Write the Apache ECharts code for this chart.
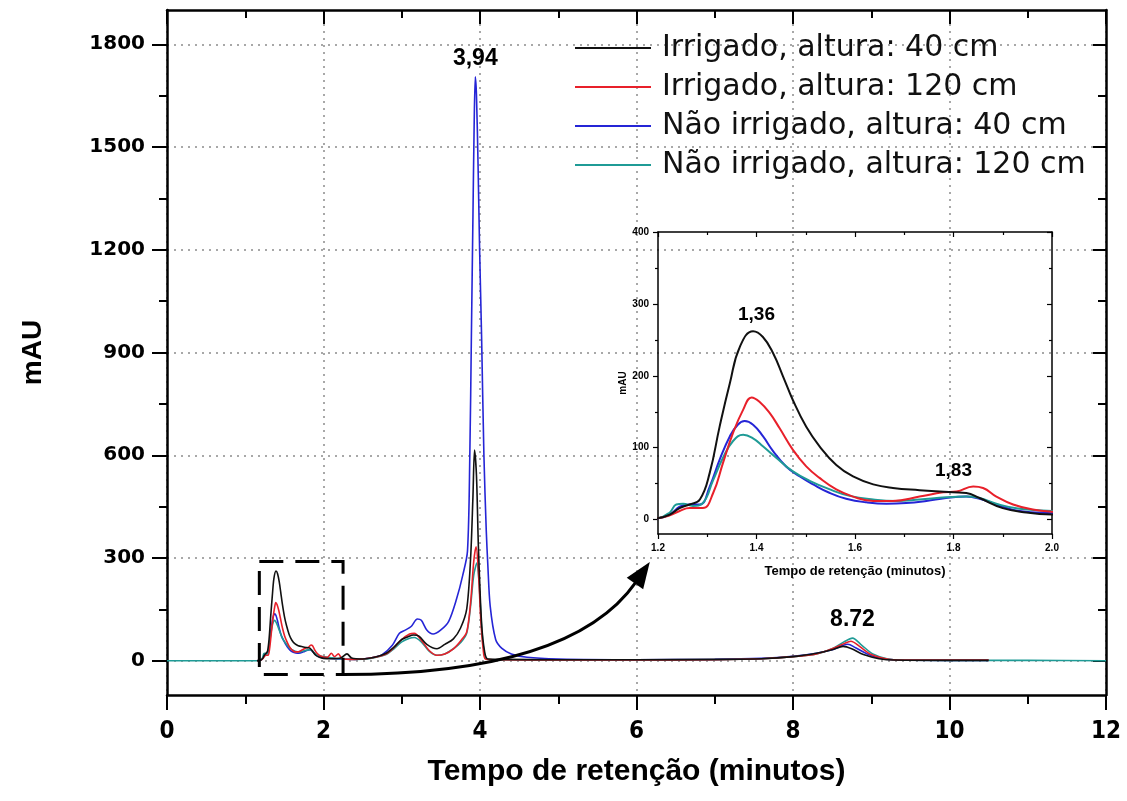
<!DOCTYPE html>
<html>
<head>
<meta charset="utf-8">
<script src="https://cdn.jsdelivr.net/npm/echarts@6/dist/echarts.min.js"></script>
<style>
  html, body { margin: 0; padding: 0; background: #ffffff; }
  #chart { width: 1127px; height: 801px; }
</style>
</head>
<body>
<div id="chart"></div>
<script>
// Chromatogram: four samples, retention time (min) vs absorbance (mAU)
const seriesNames = [
  'Irrigado, altura: 40 cm',
  'Irrigado, altura: 120 cm',
  'Não irrigado, altura: 40 cm',
  'Não irrigado, altura: 120 cm'
];
const seriesColors = ['#111111', '#e8202a', '#2525d6', '#1f9b96'];

// [tempo (min), mAU]
const irrigado40 = [
  [1.15, 0], [1.18, 1], [1.2, 2], [1.224, 7], [1.244, 16], [1.264, 21], [1.285, 28],
  [1.305, 65], [1.325, 129], [1.346, 190], [1.366, 240], [1.393, 262], [1.413, 254],
  [1.434, 231], [1.454, 199], [1.474, 166], [1.501, 129], [1.528, 102], [1.562, 76],
  [1.596, 60], [1.637, 49], [1.677, 44], [1.731, 41], [1.799, 38], [1.826, 37],
  [1.853, 30], [1.9, 16], [1.948, 10], [2.0, 7], [2.1, 6], [2.22, 8], [2.3, 20],
  [2.36, 8], [2.5, 5], [2.65, 10], [2.8, 22], [2.9, 40], [3.0, 62], [3.08, 70],
  [3.15, 75], [3.22, 72], [3.32, 48], [3.45, 35], [3.55, 48], [3.66, 64], [3.75, 95],
  [3.83, 151], [3.88, 300], [3.91, 480], [3.93, 615], [3.955, 540], [3.98, 330],
  [4.02, 110], [4.06, 25], [4.1, 5], [4.3, 4], [5.0, 3], [6.0, 3], [7.0, 4], [7.6, 6],
  [8.0, 12], [8.3, 22], [8.5, 32], [8.64, 42], [8.75, 35], [8.9, 18], [9.1, 6],
  [9.3, 2], [10.0, 1], [10.5, 1]
];
const irrigado120 = [
  [1.15, 0], [1.2, 2], [1.224, 6], [1.244, 12], [1.264, 16], [1.291, 16], [1.312, 37],
  [1.332, 79], [1.352, 120], [1.373, 153], [1.39, 170], [1.406, 164], [1.427, 148],
  [1.447, 127], [1.474, 97], [1.501, 74], [1.528, 58], [1.562, 42], [1.596, 32],
  [1.637, 26], [1.677, 26], [1.731, 32], [1.779, 38], [1.806, 39], [1.84, 46],
  [1.86, 44], [1.887, 32], [1.921, 21], [1.961, 14], [2.0, 11], [2.05, 10], [2.1, 22],
  [2.14, 12], [2.19, 20], [2.24, 6], [2.4, 4], [2.6, 8], [2.8, 20], [2.9, 38],
  [3.0, 62], [3.1, 78], [3.16, 80], [3.25, 60], [3.35, 30], [3.45, 16], [3.55, 20],
  [3.66, 35], [3.76, 60], [3.83, 84], [3.88, 170], [3.92, 290], [3.95, 333],
  [3.98, 260], [4.01, 120], [4.04, 35], [4.07, 5], [4.2, 3], [5.0, 2], [6.0, 2],
  [7.0, 3], [7.6, 6], [8.0, 12], [8.3, 20], [8.5, 35], [8.65, 50], [8.74, 57],
  [8.85, 42], [9.0, 18], [9.2, 5], [9.4, 2], [10.0, 2], [10.5, 2]
];
const naoIrrigado40 = [
  [1.15, 0], [1.2, 2], [1.224, 7], [1.244, 18], [1.264, 21], [1.285, 21], [1.305, 46],
  [1.325, 83], [1.346, 116], [1.362, 132], [1.376, 137], [1.393, 132], [1.413, 116],
  [1.434, 95], [1.46, 74], [1.488, 60], [1.515, 49], [1.549, 37], [1.582, 29],
  [1.623, 24], [1.664, 22], [1.704, 23], [1.745, 26], [1.785, 30], [1.826, 32],
  [1.853, 29], [1.887, 21], [1.934, 12], [2.0, 9], [2.2, 5], [2.4, 4], [2.6, 8],
  [2.75, 18], [2.88, 45], [2.97, 80], [3.05, 90], [3.12, 100], [3.2, 122], [3.25, 118],
  [3.32, 90], [3.4, 78], [3.5, 90], [3.6, 115], [3.7, 180], [3.78, 250], [3.84, 320],
  [3.87, 600], [3.89, 950], [3.91, 1300], [3.925, 1560], [3.94, 1705], [3.955, 1650],
  [3.975, 1450], [3.995, 1200], [4.02, 950], [4.05, 600], [4.08, 380], [4.1, 280],
  [4.13, 160], [4.2, 62], [4.28, 36], [4.4, 20], [4.6, 10], [5.0, 5], [6.0, 3],
  [7.0, 4], [7.6, 7], [8.0, 13], [8.3, 22], [8.5, 32], [8.7, 48], [8.8, 38],
  [8.95, 20], [9.15, 6], [9.4, 2], [10.0, 1], [10.5, 1]
];
const naoIrrigado120 = [
  [0, 0], [1.15, 0], [1.2, 2], [1.224, 10], [1.237, 21], [1.251, 22], [1.271, 19],
  [1.291, 23], [1.312, 55], [1.332, 86], [1.352, 109], [1.373, 118], [1.393, 113],
  [1.413, 102], [1.44, 86], [1.474, 67], [1.508, 54], [1.549, 42], [1.589, 33],
  [1.637, 28], [1.684, 26], [1.731, 28], [1.785, 31], [1.826, 32], [1.853, 30],
  [1.887, 22], [1.934, 15], [2.0, 12], [2.2, 6], [2.4, 4], [2.6, 7], [2.8, 18],
  [2.9, 35], [3.0, 55], [3.1, 66], [3.16, 68], [3.25, 55], [3.35, 28], [3.45, 16],
  [3.55, 20], [3.66, 35], [3.76, 55], [3.83, 80], [3.88, 160], [3.92, 250], [3.96, 285],
  [3.99, 220], [4.02, 100], [4.05, 30], [4.08, 5], [4.2, 3], [5.0, 2], [6.0, 2],
  [7.0, 3], [7.6, 6], [8.0, 12], [8.3, 20], [8.5, 35], [8.65, 55], [8.76, 66],
  [8.88, 45], [9.02, 20], [9.2, 6], [9.4, 2], [10.0, 1], [11.0, 1], [12.0, 0]
];
const seriesData = [irrigado40, irrigado120, naoIrrigado40, naoIrrigado120];

// axis ticks
const mainYMajor = [0, 300, 600, 900, 1200, 1500, 1800];
const mainYMinor = [150, 450, 750, 1050, 1350, 1650];
const insetYMajor = [0, 100, 200, 300, 400];
const insetYMinor = [50, 150, 250, 350];

// peak annotations: [series index, tempo, mAU, text]
const mainPeakLabels = [[2, 3.94, 1705, '3,94'], [3, 8.76, 66, '8.72']];
const insetPeakLabels = [[0, 1.40, 262, '1,36'], [1, 1.80, 46, '1,83']];

// zoomed region marked on the main plot and the arrow pointing to the inset
const zoomBox = { x0: 1.18, x1: 2.25, y0: -40, y1: 290 };
const arrowCtrl = [4.0, -40];
const arrowCtrl2 = [5.4, 35];
const arrowTip = [6.17, 288];

const BLACK = '#000000';
const tickFont = "'Liberation Sans Narrow', 'DejaVu Sans Condensed', 'Liberation Sans', sans-serif";
const plainNumber = v => String(v);

function xAxisCfg(grid, min, max, interval, pos, opts) {
  return Object.assign({
    type: 'value', gridIndex: grid, min: min, max: max, interval: interval, position: pos,
    axisLine: { show: true, onZero: false, lineStyle: { color: BLACK, width: opts.lw } },
    axisTick: { show: true, inside: opts.inside, length: opts.tl, lineStyle: { color: BLACK, width: opts.tw } },
    minorTick: { show: true, splitNumber: 2, length: opts.ml, lineStyle: { color: BLACK, width: opts.tw } },
    axisLabel: { show: false },
    splitLine: { show: false }
  }, opts.extra || {});
}
function yAxisCfg(grid, min, max, pos, ticks, opts) {
  return Object.assign({
    type: 'value', gridIndex: grid, min: min, max: max, position: pos,
    axisLine: { show: opts.line, onZero: false, lineStyle: { color: BLACK, width: opts.lw } },
    axisTick: { show: true, inside: opts.inside, length: opts.tl, customValues: ticks, lineStyle: { color: BLACK, width: opts.tw } },
    axisLabel: { show: false },
    splitLine: { show: false }
  }, opts.extra || {});
}

const chart = echarts.init(document.getElementById('chart'), null, { renderer: 'canvas' });

const xAxes = [
  // main bottom
  xAxisCfg(0, 0, 12, 2, 'bottom', {
    lw: 2.5, inside: false, tl: 15, ml: 9, tw: 2,
    extra: {
      axisLabel: { show: true, margin: 25, color: BLACK, fontFamily: tickFont, fontWeight: 'bold', fontSize: 24, showMinLabel: true, showMaxLabel: true, formatter: plainNumber },
      splitLine: { show: true, lineStyle: { color: '#8c8c8c', width: 1.5, type: [2, 5] } },
      name: 'Tempo de retenção (minutos)', nameLocation: 'middle', nameGap: 62,
      nameTextStyle: { color: BLACK, fontFamily: 'Liberation Sans, Arial, sans-serif', fontWeight: 'bold', fontSize: 30 }
    }
  }),
  // main top
  xAxisCfg(0, 0, 12, 2, 'top', { lw: 2.5, inside: true, tl: 14, ml: 8, tw: 2 }),
  // inset bottom
  xAxisCfg(1, 1.2, 2.0, 0.2, 'bottom', {
    lw: 1.5, inside: false, tl: 5, ml: 3, tw: 1.2,
    extra: {
      axisLabel: { show: true, margin: 9, color: BLACK, fontFamily: 'Liberation Sans, Arial, sans-serif', fontWeight: 'bold', fontSize: 10, showMinLabel: true, showMaxLabel: true, formatter: v => v.toFixed(1) },
      name: 'Tempo de retenção (minutos)', nameLocation: 'middle', nameGap: 31,
      nameTextStyle: { color: BLACK, fontFamily: 'Liberation Sans, Arial, sans-serif', fontWeight: 'bold', fontSize: 13 }
    }
  }),
  // inset top
  xAxisCfg(1, 1.2, 2.0, 0.2, 'top', { lw: 1.5, inside: true, tl: 5, ml: 3, tw: 1.2 })
];

const yAxes = [
  // main left (labels, grid)
  yAxisCfg(0, -100, 1900, 'left', mainYMajor, {
    line: true, lw: 2.5, inside: false, tl: 15, tw: 2,
    extra: {
      axisLabel: { show: true, customValues: mainYMajor, margin: 22, color: BLACK, fontFamily: "'DejaVu Sans', sans-serif", fontWeight: 'bold', fontSize: 20, formatter: plainNumber },
      splitLine: { show: true, lineStyle: { color: '#8c8c8c', width: 1.5, type: [2, 5] } },
      name: 'mAU', nameLocation: 'middle', nameGap: 120, nameRotate: 90,
      nameTextStyle: { color: BLACK, fontFamily: 'Liberation Sans, Arial, sans-serif', fontWeight: 'bold', fontSize: 28 }
    }
  }),
  // main left minor ticks
  yAxisCfg(0, -100, 1900, 'left', mainYMinor, { line: false, lw: 0, inside: false, tl: 8, tw: 2 }),
  // main right
  yAxisCfg(0, -100, 1900, 'right', mainYMajor, { line: true, lw: 2.5, inside: true, tl: 13, tw: 2 }),
  yAxisCfg(0, -100, 1900, 'right', mainYMinor, { line: false, lw: 0, inside: true, tl: 8, tw: 2 }),
  // inset left
  yAxisCfg(1, -20, 400, 'left', insetYMajor, {
    line: true, lw: 1.5, inside: false, tl: 5, tw: 1.2,
    extra: {
      axisLabel: { show: true, customValues: insetYMajor, margin: 9, color: BLACK, fontFamily: 'Liberation Sans, Arial, sans-serif', fontWeight: 'bold', fontSize: 10, formatter: plainNumber },
      name: 'mAU', nameLocation: 'middle', nameGap: 22, nameRotate: 90,
      nameTextStyle: { color: BLACK, fontFamily: 'Liberation Sans, Arial, sans-serif', fontWeight: 'bold', fontSize: 10 }
    }
  }),
  yAxisCfg(1, -20, 400, 'left', insetYMinor, { line: false, lw: 0, inside: false, tl: 3, tw: 1.2 }),
  // inset right
  yAxisCfg(1, -20, 400, 'right', insetYMajor, { line: true, lw: 1.5, inside: true, tl: 5, tw: 1.2 }),
  yAxisCfg(1, -20, 400, 'right', insetYMinor, { line: false, lw: 0, inside: true, tl: 3, tw: 1.2 })
];

function peakMarks(list, idx, fontSize, dist) {
  const items = list.filter(p => p[0] === idx).map(p => ({
    coord: [p[1], p[2]], value: p[3],
    label: { formatter: p[3] }
  }));
  if (!items.length) return undefined;
  return {
    symbol: 'circle', symbolSize: 1, silent: true, animation: false,
    itemStyle: { color: 'rgba(0,0,0,0)' },
    label: { show: true, position: 'top', distance: dist, color: BLACK, fontFamily: 'Liberation Sans, Arial, sans-serif', fontWeight: 'bold', fontSize: fontSize },
    data: items
  };
}

// drawing order: blue, teal, red, black on top
const drawOrder = [2, 3, 1, 0];
const series = [];
drawOrder.forEach(i => {
  series.push({
    name: seriesNames[i], type: 'line', xAxisIndex: 0, yAxisIndex: 0,
    data: seriesData[i], symbol: 'none', smooth: 0.3,
    lineStyle: { color: seriesColors[i], width: 1.6 }, itemStyle: { color: seriesColors[i] },
    animation: false, markPoint: peakMarks(mainPeakLabels, i, 23, 6)
  });
});
drawOrder.forEach(i => {
  series.push({
    name: seriesNames[i], type: 'line', xAxisIndex: 2, yAxisIndex: 4,
    data: seriesData[i], symbol: 'none', smooth: 0.45,
    lineStyle: { color: seriesColors[i], width: 2 }, itemStyle: { color: seriesColors[i] },
    animation: false, markPoint: peakMarks(insetPeakLabels, i, 19, 6)
  });
});

chart.setOption({
  backgroundColor: '#ffffff',
  animation: false,
  grid: [
    { left: 167, top: 10, right: 21, bottom: 106, outerBoundsMode: 'none', containLabel: false },
    { left: 658, top: 232, width: 394, height: 302, outerBoundsMode: 'none', containLabel: false }
  ],
  legend: {
    show: true, orient: 'vertical', left: 570, top: 28, itemGap: 9,
    itemWidth: 76, itemHeight: 2, icon: 'rect',
    data: seriesNames,
    textStyle: { color: '#111111', fontFamily: "'DejaVu Sans', sans-serif", fontSize: 30, lineHeight: 30, padding: [0, 0, 0, 6] }
  },
  xAxis: xAxes,
  yAxis: yAxes,
  series: series
});

// dashed box around the zoomed range and the curved arrow to the inset
function px(pt) { return chart.convertToPixel({ seriesIndex: 0 }, pt); }
const b0 = px([zoomBox.x0, zoomBox.y1]);
const b1 = px([zoomBox.x1, zoomBox.y0]);
const c1 = px(arrowCtrl);
const c2 = px(arrowCtrl2);
const tip = px(arrowTip);
const dx = tip[0] - c2[0], dy = tip[1] - c2[1];
const len = Math.sqrt(dx * dx + dy * dy);
const ux = dx / len, uy = dy / len;
const headLen = 26, headHalf = 10;
const base = [tip[0] - ux * headLen, tip[1] - uy * headLen];

chart.setOption({
  graphic: [
    {
      type: 'rect', silent: true, z: 10,
      shape: { x: b0[0], y: b0[1], width: b1[0] - b0[0], height: b1[1] - b0[1] },
      style: { fill: 'none', stroke: BLACK, lineWidth: 3, lineDash: [24, 12] }
    },
    {
      type: 'bezierCurve', silent: true, z: 10,
      shape: { x1: b1[0], y1: b1[1], cpx1: c1[0], cpy1: c1[1], cpx2: c2[0], cpy2: c2[1], x2: base[0] + ux * 2, y2: base[1] + uy * 2 },
      style: { fill: 'none', stroke: BLACK, lineWidth: 3 }
    },
    {
      type: 'polygon', silent: true, z: 10,
      shape: { points: [tip, [base[0] - uy * headHalf, base[1] + ux * headHalf], [base[0] + uy * headHalf, base[1] - ux * headHalf]] },
      style: { fill: BLACK, stroke: 'none' }
    }
  ]
});
</script>
</body>
</html>
